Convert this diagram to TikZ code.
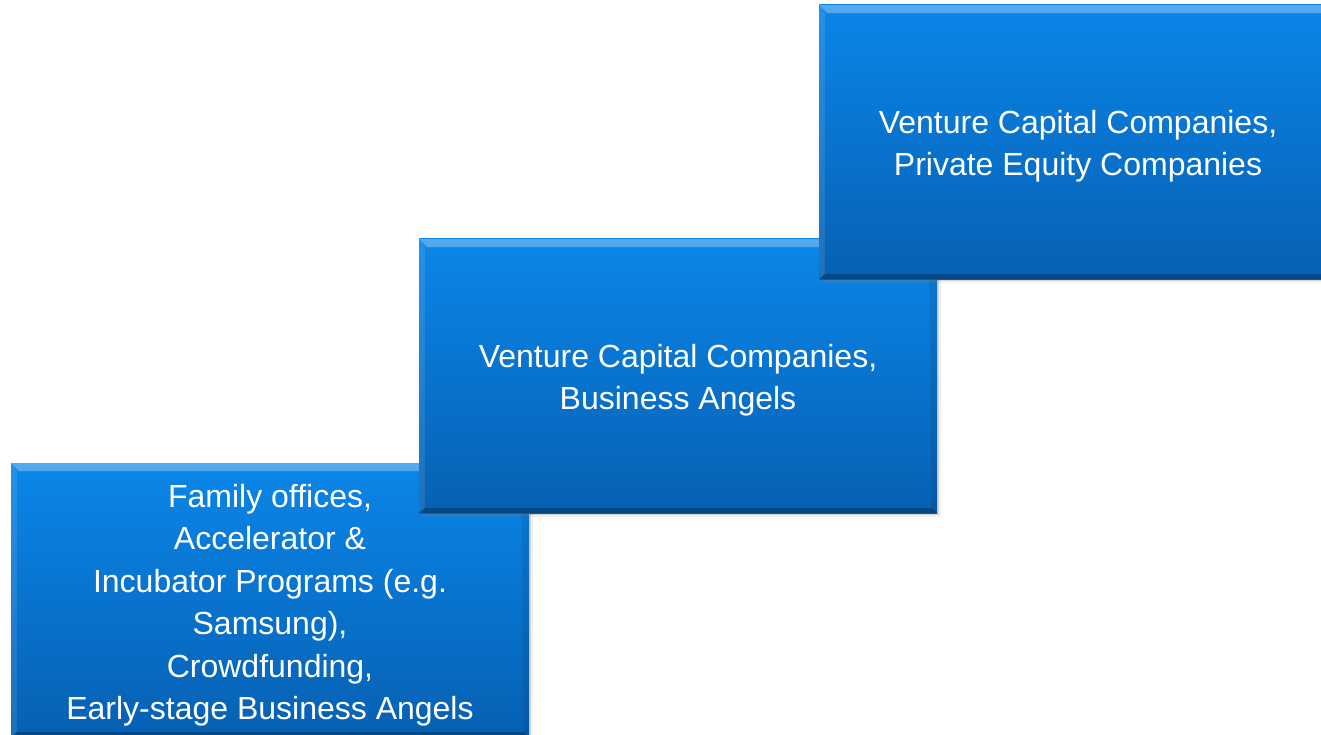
\documentclass[tikz,border=0pt]{standalone}
\usepackage{fontspec}
\setmainfont{Liberation Sans}
\usetikzlibrary{shadows}

\definecolor{stairtop}{RGB}{11,134,233}
\definecolor{stairbottom}{RGB}{6,96,178}

\begin{document}
\begin{tikzpicture}[x=1pt, y=-1pt,
	stair/.style={rectangle, minimum width=518pt, minimum height=274pt, inner sep=0pt,
		top color=stairtop, bottom color=stairbottom,
		drop shadow={shadow xshift=4pt, shadow yshift=-4pt, opacity=0.12},
		drop shadow={shadow xshift=2pt, shadow yshift=-2pt, opacity=0.25},
		path picture={
			\coordinate (nw) at (path picture bounding box.north west);
			\coordinate (ne) at (path picture bounding box.north east);
			\coordinate (sw) at (path picture bounding box.south west);
			\coordinate (se) at (path picture bounding box.south east);
			% bevel
			\fill[white, opacity=0.3] (nw) -- (ne) -- ([xshift=-8pt, yshift=-8pt]ne) -- ([xshift=8pt, yshift=-8pt]nw) -- cycle;
			\fill[white, opacity=0.1] (nw) -- ([xshift=6pt, yshift=-8pt]nw) -- ([xshift=6pt, yshift=5pt]sw) -- (sw) -- cycle;
			\fill[black, opacity=0.25] (sw) -- (se) -- ([xshift=-5pt, yshift=5pt]se) -- ([xshift=6pt, yshift=5pt]sw) -- cycle;
			\fill[black, opacity=0.08] (ne) -- ([xshift=-8pt, yshift=-8pt]ne) -- ([xshift=-5pt, yshift=5pt]se) -- (se) -- cycle;
		}},
	stairtext/.style={text=white, align=center, inner sep=0pt, font=\fontsize{32}{42.5}\selectfont}]
	\useasboundingbox (0, 0) rectangle (1321, 735);
	\clip (0, 0) rectangle (1321, 735);

	\node[stair] (1) at (270, 600) {};
	\node[stairtext] (1t) at ([yshift=-5pt]1.center) {Family offices,\\Accelerator \&\\Incubator Programs (e.g.\\Samsung),\\Crowdfunding,\\Early-stage Business Angels};
	\node[stair] (2) at (678, 376) {};
	\node[stairtext] (2t) at ([yshift=-4pt]2.center) {Venture Capital Companies,\\Business Angels};
	\node[stair] (3) at (1078, 142) {};
	\node[stairtext] (3t) at ([yshift=-4pt]3.center) {Venture Capital Companies,\\Private Equity Companies};
\end{tikzpicture}
\end{document}
